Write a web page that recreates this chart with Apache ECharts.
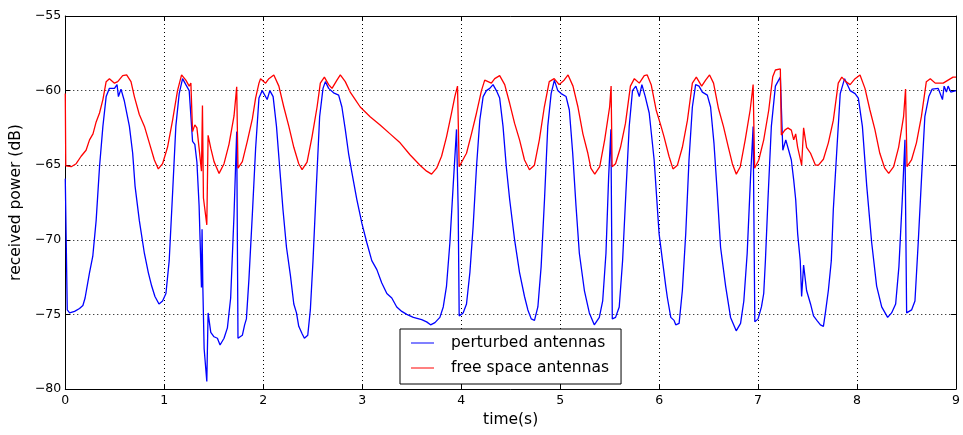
<!DOCTYPE html>
<html>
<head>
<meta charset="utf-8">
<script src="https://cdn.jsdelivr.net/npm/echarts@6/dist/echarts.min.js"></script>
<style>html,body{margin:0;padding:0;background:#fff;}#c{width:963px;height:435px;}</style>
</head>
<body>
<div id="c"></div>
<script>
var xTicks = [0, 9, 1];
var yTicks = [-80, -55, 5];
var seriesNames = ['perturbed antennas', 'free space antennas'];

var perturbed = [[0,-65.9],[0.02,-74.7],[0.044,-74.9],[0.094,-74.8],[0.144,-74.6],[0.178,-74.4],[0.2,-73.9],[0.22,-74.0],[0.245,-72.2],[0.278,-71.1],[0.312,-68.7],[0.346,-65.1],[0.38,-62.4],[0.413,-60.4],[0.446,-59.85],[0.497,-59.85],[0.523,-59.6],[0.537,-60.4],[0.563,-59.9],[0.597,-60.7],[0.614,-60.6],[0.648,-62.4],[0.681,-64.2],[0.705,-66.4],[0.748,-68.7],[0.799,-70.9],[0.839,-72.2],[0.873,-73.1],[0.906,-73.8],[0.947,-74.3],[0.983,-74.1],[1.017,-73.6],[1.05,-71.4],[1.084,-66.9],[1.117,-62.4],[1.151,-60.2],[1.185,-59.2],[1.2,-59.1],[1.218,-59.6],[1.252,-60.0],[1.269,-60.0],[1.286,-63.4],[1.309,-63.6],[1.33,-64.8],[1.352,-67.7],[1.376,-73.2],[1.382,-69.3],[1.39,-73.2],[1.403,-77.3],[1.43,-79.5],[1.443,-74.9],[1.47,-76.2],[1.503,-76.5],[1.537,-76.6],[1.564,-77.05],[1.604,-76.6],[1.638,-75.9],[1.671,-73.9],[1.705,-68.3],[1.732,-62.75],[1.745,-76.6],[1.789,-76.4],[1.812,-75.7],[1.83,-75.3],[1.856,-72.6],[1.89,-68.3],[1.923,-63.9],[1.957,-60.5],[1.99,-60.0],[2.007,-59.9],[2.04,-60.6],[2.067,-60.0],[2.1,-60.4],[2.134,-62.4],[2.168,-65.3],[2.2,-68.0],[2.235,-70.5],[2.275,-72.4],[2.309,-74.3],[2.336,-74.9],[2.359,-75.8],[2.393,-76.3],[2.416,-76.6],[2.45,-76.4],[2.476,-74.7],[2.503,-71.4],[2.537,-66.4],[2.57,-61.75],[2.604,-59.85],[2.628,-59.4],[2.661,-59.85],[2.711,-60.15],[2.762,-60.3],[2.795,-61.1],[2.829,-62.6],[2.862,-64.2],[2.896,-65.5],[2.946,-67.3],[2.997,-68.9],[3.047,-70.2],[3.097,-71.4],[3.148,-72.0],[3.198,-72.9],[3.249,-73.6],[3.299,-73.9],[3.349,-74.5],[3.4,-74.8],[3.45,-75.0],[3.517,-75.2],[3.601,-75.35],[3.651,-75.5],[3.691,-75.7],[3.735,-75.55],[3.785,-75.2],[3.819,-74.5],[3.852,-73.1],[3.886,-70.2],[3.919,-66.4],[3.953,-62.6],[3.97,-68.0],[3.98,-75.1],[4.02,-74.9],[4.054,-74.3],[4.088,-72.2],[4.121,-69.1],[4.155,-65.1],[4.188,-62.0],[4.222,-60.4],[4.255,-60.0],[4.289,-59.85],[4.322,-59.6],[4.356,-60.0],[4.389,-60.5],[4.423,-62.4],[4.456,-65.1],[4.49,-67.3],[4.54,-70.0],[4.59,-72.2],[4.64,-73.8],[4.674,-74.7],[4.708,-75.3],[4.741,-75.4],[4.775,-74.5],[4.808,-71.8],[4.842,-67.3],[4.875,-62.4],[4.909,-60.2],[4.942,-59.3],[4.976,-60.0],[5.01,-60.2],[5.06,-60.4],[5.093,-61.3],[5.127,-64.2],[5.16,-67.7],[5.194,-70.9],[5.245,-73.4],[5.295,-74.9],[5.345,-75.7],[5.396,-75.2],[5.43,-74.1],[5.463,-70.9],[5.49,-65.8],[5.513,-62.6],[5.527,-75.3],[5.56,-75.2],[5.597,-74.5],[5.631,-71.4],[5.664,-66.9],[5.698,-62.4],[5.731,-60.0],[5.765,-59.7],[5.8,-60.4],[5.826,-59.6],[5.86,-60.4],[5.9,-61.5],[5.95,-64.65],[6.0,-69.6],[6.034,-71.4],[6.067,-73.1],[6.084,-73.9],[6.118,-75.2],[6.151,-75.4],[6.168,-75.7],[6.202,-75.6],[6.235,-73.4],[6.269,-69.6],[6.302,-64.65],[6.336,-61.1],[6.369,-59.6],[6.403,-59.7],[6.437,-60.1],[6.487,-60.3],[6.52,-61.1],[6.554,-63.5],[6.588,-66.9],[6.621,-70.5],[6.672,-73.1],[6.722,-75.2],[6.779,-76.1],[6.823,-75.6],[6.856,-74.1],[6.89,-70.9],[6.924,-65.8],[6.95,-62.4],[6.967,-75.5],[7.0,-75.3],[7.034,-74.5],[7.057,-73.6],[7.074,-71.4],[7.1,-67.3],[7.134,-62.4],[7.175,-59.7],[7.208,-59.3],[7.225,-59.1],[7.25,-64.0],[7.28,-63.3],[7.309,-64.0],[7.336,-64.65],[7.36,-66.0],[7.38,-67.3],[7.4,-69.6],[7.426,-71.4],[7.44,-73.8],[7.46,-71.7],[7.49,-73.4],[7.53,-74.3],[7.56,-75.1],[7.594,-75.4],[7.63,-75.7],[7.66,-75.8],[7.68,-74.9],[7.71,-73.4],[7.74,-71.4],[7.76,-68.0],[7.8,-63.5],[7.83,-60.2],[7.874,-59.2],[7.93,-60.0],[7.98,-60.2],[8.013,-60.5],[8.054,-62.4],[8.098,-66.4],[8.148,-70.2],[8.198,-73.1],[8.249,-74.5],[8.309,-75.2],[8.349,-74.9],[8.39,-74.3],[8.423,-71.8],[8.457,-67.3],[8.484,-63.3],[8.501,-74.9],[8.551,-74.7],[8.585,-74.1],[8.618,-70.2],[8.652,-65.8],[8.685,-61.75],[8.725,-60.4],[8.759,-59.9],[8.82,-59.85],[8.863,-60.6],[8.88,-59.7],[8.903,-60.1],[8.92,-59.7],[8.947,-60.1],[9.0,-60.0]];

var freeSpace = [[0,-60.2],[0.005,-65.05],[0.06,-65.1],[0.11,-64.9],[0.16,-64.4],[0.21,-64.0],[0.245,-63.3],[0.28,-62.9],[0.312,-62.1],[0.346,-61.5],[0.38,-60.6],[0.413,-59.4],[0.446,-59.2],[0.497,-59.5],[0.53,-59.4],[0.58,-59.0],[0.62,-58.95],[0.664,-59.4],[0.698,-60.4],[0.748,-61.6],[0.8,-62.4],[0.849,-63.5],[0.9,-64.65],[0.94,-65.25],[0.983,-64.9],[1.033,-63.8],[1.084,-62.0],[1.134,-60.0],[1.175,-58.95],[1.218,-59.3],[1.252,-59.7],[1.269,-59.5],[1.286,-62.75],[1.309,-62.3],[1.33,-62.5],[1.352,-63.86],[1.376,-65.4],[1.386,-61.0],[1.396,-67.2],[1.43,-69.0],[1.443,-63.0],[1.47,-63.86],[1.503,-64.76],[1.554,-65.55],[1.604,-64.9],[1.654,-63.6],[1.705,-61.7],[1.732,-59.74],[1.745,-65.2],[1.789,-64.76],[1.839,-63.4],[1.89,-61.9],[1.923,-60.5],[1.957,-59.5],[1.973,-59.2],[2.024,-59.5],[2.057,-59.2],[2.107,-58.95],[2.158,-59.7],[2.208,-61.1],[2.259,-62.4],[2.309,-63.8],[2.359,-64.9],[2.393,-65.3],[2.443,-64.8],[2.493,-63.1],[2.544,-61.1],[2.577,-59.5],[2.618,-59.1],[2.661,-59.6],[2.695,-59.85],[2.745,-59.3],[2.779,-58.95],[2.829,-59.4],[2.879,-60.1],[2.93,-60.6],[2.98,-61.1],[3.08,-61.75],[3.181,-62.3],[3.282,-62.9],[3.383,-63.5],[3.483,-64.3],[3.584,-65.0],[3.651,-65.4],[3.701,-65.6],[3.752,-65.2],[3.802,-64.4],[3.852,-63.1],[3.903,-61.5],[3.936,-60.4],[3.963,-59.7],[3.98,-65.1],[4.037,-64.4],[4.054,-64.2],[4.104,-62.9],[4.155,-61.5],[4.205,-60.0],[4.238,-59.3],[4.305,-59.5],[4.339,-59.2],[4.389,-59.0],[4.44,-59.6],[4.49,-60.85],[4.54,-62.2],[4.59,-63.3],[4.64,-64.65],[4.69,-65.3],[4.74,-65.0],[4.79,-63.3],[4.84,-61.1],[4.89,-59.4],[4.94,-59.2],[4.99,-59.6],[5.04,-59.3],[5.08,-58.95],[5.13,-59.7],[5.18,-61.1],[5.23,-62.9],[5.28,-64.2],[5.31,-65.2],[5.35,-65.6],[5.40,-65.1],[5.45,-63.3],[5.50,-61.1],[5.515,-59.7],[5.525,-65.1],[5.56,-64.9],[5.61,-63.8],[5.66,-62.2],[5.71,-59.7],[5.75,-59.2],[5.80,-59.5],[5.85,-59.0],[5.88,-58.95],[5.92,-59.6],[5.97,-61.3],[6.02,-62.4],[6.05,-63.1],[6.1,-64.4],[6.14,-65.25],[6.185,-65.0],[6.235,-63.8],[6.286,-62.0],[6.336,-59.5],[6.376,-59.1],[6.43,-59.7],[6.47,-59.3],[6.51,-58.95],[6.55,-59.5],[6.6,-61.2],[6.65,-62.4],[6.70,-63.8],[6.74,-64.9],[6.78,-65.6],[6.82,-65.1],[6.87,-63.3],[6.92,-61.3],[6.95,-59.6],[6.965,-65.2],[7.007,-64.65],[7.057,-63.3],[7.108,-61.3],[7.148,-59.07],[7.175,-58.62],[7.225,-58.55],[7.235,-62.98],[7.27,-62.65],[7.3,-62.5],[7.336,-62.65],[7.36,-63.3],[7.38,-62.9],[7.4,-63.8],[7.44,-65.0],[7.46,-62.5],[7.49,-63.8],[7.53,-64.2],[7.58,-65.0],[7.61,-65.0],[7.66,-64.6],[7.71,-63.5],[7.76,-62.0],[7.81,-59.5],[7.846,-59.1],[7.886,-59.4],[7.93,-59.6],[7.98,-59.2],[8.03,-58.95],[8.08,-59.85],[8.13,-61.3],[8.18,-62.6],[8.23,-64.2],[8.28,-65.2],[8.32,-65.55],[8.37,-65.1],[8.42,-63.8],[8.47,-61.75],[8.49,-59.9],[8.505,-65.1],[8.55,-64.65],[8.60,-63.5],[8.65,-61.75],[8.70,-59.4],[8.74,-59.2],[8.79,-59.5],[8.87,-59.5],[8.92,-59.3],[8.97,-59.1],[9.0,-59.1]];

var FONT = 'DejaVu Sans';
var chart = echarts.init(document.getElementById('c'), null, {renderer: 'canvas'});

function frameAxis(extra) {
  var base = {
    type: 'value',
    axisLine: {show: true, onZero: false, lineStyle: {color: '#000', width: 1}},
    axisTick: {show: true, inside: true, length: 5, lineStyle: {color: '#000', width: 1}},
    splitLine: {show: false},
    axisLabel: {show: false}
  };
  for (var k in extra) base[k] = extra[k];
  return base;
}

var option = {
  animation: false,
  backgroundColor: '#fff',
  grid: {left: 64, right: 5, top: 16, bottom: 46, containLabel: false},
  legend: {
    data: seriesNames,
    orient: 'vertical',
    left: 400,
    top: 329,
    padding: [6, 12, 8, 11],
    itemGap: 9,
    itemWidth: 23,
    itemHeight: 14,
    icon: 'path://M0,6.5 L23,6.5 L23,7.5 L0,7.5 Z',
    borderColor: '#000',
    borderWidth: 1,
    backgroundColor: '#fff',
    textStyle: {fontFamily: FONT, fontSize: 15.5, color: '#000', padding: [0, 0, 0, 12]}
  },
  xAxis: [
    frameAxis({
      min: xTicks[0], max: xTicks[1], interval: xTicks[2], position: 'bottom',
      axisLabel: {show: true, color: '#000', fontFamily: FONT, fontSize: 12.5, margin: 5},
      splitLine: {show: true, lineStyle: {color: '#000', width: 1, type: [1, 3]}},
      name: 'time(s)', nameLocation: 'middle', nameGap: 23,
      nameTextStyle: {fontFamily: FONT, fontSize: 15.5, color: '#000'}
    }),
    frameAxis({min: xTicks[0], max: xTicks[1], interval: xTicks[2], position: 'top'})
  ],
  yAxis: [
    frameAxis({
      min: yTicks[0], max: yTicks[1], interval: yTicks[2], position: 'left',
      axisLabel: {show: true, color: '#000', fontFamily: FONT, fontSize: 12.5, margin: 4,
        formatter: function (v) { return v < 0 ? '\u2212' + Math.abs(v) : String(v); }},
      splitLine: {show: true, lineStyle: {color: '#000', width: 1, type: [1, 3]}},
      name: 'received power (dB)', nameLocation: 'middle', nameGap: 37,
      nameTextStyle: {fontFamily: FONT, fontSize: 15.5, color: '#000'}
    }),
    frameAxis({min: yTicks[0], max: yTicks[1], interval: yTicks[2], position: 'right'})
  ],
  series: [
    {
      name: seriesNames[0], type: 'line', data: perturbed, showSymbol: false,
      xAxisIndex: 0, yAxisIndex: 0,
      lineStyle: {color: '#0000ff', width: 1.3}, itemStyle: {color: '#0000ff'}
    },
    {
      name: seriesNames[1], type: 'line', data: freeSpace, showSymbol: false,
      xAxisIndex: 0, yAxisIndex: 0,
      lineStyle: {color: '#ff0000', width: 1.3}, itemStyle: {color: '#ff0000'}
    }
  ]
};
chart.setOption(option);
</script>
</body>
</html>
